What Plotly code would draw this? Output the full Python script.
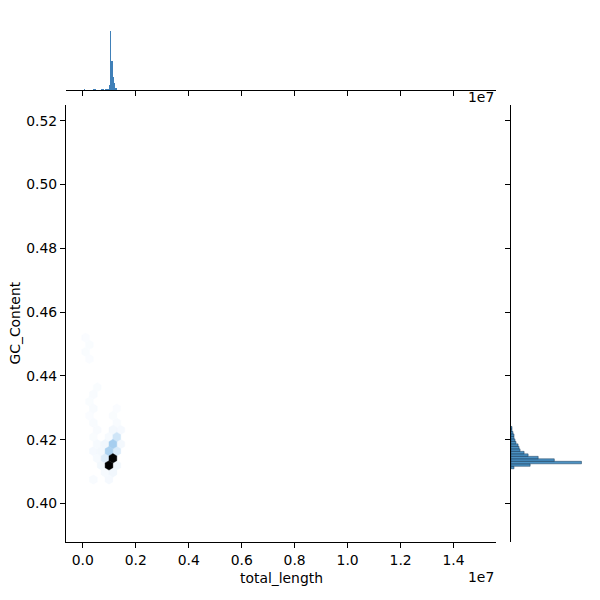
import plotly.graph_objects as go
from plotly.colors import sample_colorscale

# ---------------- data ----------------
x_tick_vals = [0, 2e6, 4e6, 6e6, 8e6, 1e7, 1.2e7, 1.4e7]
x_tick_text = ["0.0", "0.2", "0.4", "0.6", "0.8", "1.0", "1.2", "1.4"]
y_tick_vals = [0.40, 0.42, 0.44, 0.46, 0.48, 0.50, 0.52]
y_tick_text = ["0.40", "0.42", "0.44", "0.46", "0.48", "0.50", "0.52"]

# hexbin cells: centre total_length, centre GC_Content, count
hex_x = [103000, 250600, 103000, 250600,
         545800, 398200, 250600, 398200, 250600, 398200, 545800, 398200, 545800,
         1283800, 1136200, 1283800, 1431400, 1136200, 988600, 841000, 1431400,
         1283800, 1136200, 988600, 1283800, 841000, 988600, 1136200,
         693400, 398200, 693400, 545800, 1283800, 1136200, 988600, 398200, 841000]
hex_y = [0.45200, 0.44977, 0.44755, 0.44533,
         0.43643, 0.43421, 0.43199, 0.42977, 0.42754, 0.42532, 0.42309, 0.42087, 0.41865,
         0.42977, 0.42754, 0.42532, 0.42309, 0.42309, 0.42087, 0.41865, 0.41865,
         0.42087, 0.41865, 0.41643, 0.41643, 0.41420, 0.41198, 0.41420,
         0.41643, 0.41643, 0.41198, 0.41420, 0.41198, 0.40975, 0.40753, 0.40753, 0.40975]
hex_n = [8, 10, 10, 8,
         10, 12, 10, 12, 8, 15, 15, 10, 20,
         8, 10, 12, 25, 30, 20, 40, 30,
         140, 250, 230, 110, 100, 1000, 950,
         30, 25, 35, 20, 40, 40, 25, 15, 20]

# marginal histogram of total_length
len_bin_centers = [76000, 419500, 468500, 713500, 762500, 860500, 909500, 958500,
                   1007500, 1056500, 1105500, 1154500, 1203500, 1252500, 1301500]
len_bin_counts = [4, 4, 4, 4, 4, 4, 4, 4, 20, 236, 116, 52, 28, 9, 2]
len_bin_width = 49000

# marginal histogram of GC_Content
gc_bin_centers = [0.41130, 0.41208, 0.41286, 0.41364, 0.41442, 0.41520, 0.41598, 0.41676,
                  0.41754, 0.41832, 0.41910, 0.41988, 0.42066, 0.42144, 0.42222, 0.42300,
                  0.42378]
gc_bin_counts = [15, 95, 350, 215, 135, 85, 65, 45, 40, 35, 25, 20, 15, 15, 10, 5, 5]
gc_bin_width = 0.00078

# ---------------- styling / geometry ----------------
W = H = 600
FONT = "DejaVu Sans"
FS = 13.9
x_range = [-635000, 15603000]
y_range = [0.38796, 0.52492]
hex_w = 295200      # hexbin cell width (gridsize 50)
hex_h = 0.004447    # hexbin row pitch
hex_scale = [[0.0, "#fcfdff"], [0.02, "#f6fafe"], [0.05, "#eef5fc"],
             [0.12, "#d6e9f8"], [0.25, "#a6ceef"], [0.5, "#56799a"],
             [0.8, "#0a0f14"], [1.0, "#000000"]]

def px(x):
    return x / W

def py(y):
    return 1 - y / H

main_x_dom = [px(66), px(496)]
main_y_dom = [py(542), py(105)]
top_y_dom = [py(90), py(15)]
right_x_dom = [px(511), px(585)]

fig = go.Figure()

# hexbin cells as polygons
offs = [(0.5, -0.5), (0.5, 0.5), (0.0, 1.0), (-0.5, 0.5), (-0.5, -0.5), (0.0, -1.0), (0.5, -0.5)]
nmax = max(hex_n)
order = sorted(range(len(hex_n)), key=lambda k: hex_n[k])
for k in order:
    cx, cy, n = hex_x[k], hex_y[k], hex_n[k]
    col = sample_colorscale(hex_scale, [n / nmax])[0]
    fig.add_trace(go.Scatter(
        x=[cx + dx * hex_w for dx, dy in offs],
        y=[cy + dy * hex_h / 3 for dx, dy in offs],
        mode="lines", fill="toself", fillcolor=col,
        line=dict(color=col, width=0.4),
        hoverinfo="skip", showlegend=False, xaxis="x", yaxis="y"))

# top marginal histogram
fig.add_trace(go.Bar(
    x=len_bin_centers, y=len_bin_counts, width=len_bin_width,
    marker=dict(color="#4080b8", line=dict(width=0)),
    xaxis="x2", yaxis="y2", showlegend=False, hoverinfo="skip"))

# right marginal histogram
fig.add_trace(go.Bar(
    y=gc_bin_centers, x=gc_bin_counts, width=gc_bin_width, orientation="h",
    marker=dict(color="rgba(31,119,180,0.8)", line=dict(width=0.6, color="rgba(20,50,80,0.8)")),
    xaxis="x3", yaxis="y3", showlegend=False, hoverinfo="skip"))

axis_common = dict(showgrid=False, zeroline=False, showline=True, linecolor="black",
                   linewidth=1, ticks="outside", ticklen=5, tickwidth=1,
                   tickcolor="black", tickfont=dict(family=FONT, size=FS, color="black"))

fig.update_layout(
    width=W, height=H, margin=dict(l=0, r=0, t=0, b=0),
    paper_bgcolor="white", plot_bgcolor="white", bargap=0,
    font=dict(family=FONT, size=FS, color="black"),
    xaxis=dict(domain=main_x_dom, range=x_range, anchor="y",
               tickvals=x_tick_vals, ticktext=x_tick_text, **axis_common),
    yaxis=dict(domain=main_y_dom, range=y_range, anchor="x",
               tickvals=y_tick_vals, ticktext=y_tick_text, **axis_common),
    xaxis2=dict(domain=main_x_dom, range=x_range, anchor="y2",
                tickvals=x_tick_vals, showticklabels=False, **axis_common),
    yaxis2=dict(domain=top_y_dom, range=[0, 300], anchor="x2", visible=False),
    xaxis3=dict(domain=right_x_dom, range=[0, 367.5], anchor="y3", visible=False),
    yaxis3=dict(domain=main_y_dom, range=y_range, anchor="x3",
                tickvals=y_tick_vals, showticklabels=False, **axis_common),
)

ann = dict(showarrow=False, xref="paper", yref="paper",
           font=dict(family=FONT, size=FS, color="black"))
fig.add_annotation(text="total_length", x=(main_x_dom[0] + main_x_dom[1]) / 2,
                   y=py(578), xanchor="center", yanchor="middle", **ann)
fig.add_annotation(text="GC_Content", x=px(14), y=(main_y_dom[0] + main_y_dom[1]) / 2,
                   textangle=-90, xanchor="center", yanchor="middle", **ann)
fig.add_annotation(text="1e7", x=px(496), y=py(577), xanchor="right", yanchor="middle", **ann)
fig.add_annotation(text="1e7", x=px(496), y=py(97), xanchor="right", yanchor="middle", **ann)

fig.write_html("out.html",
               config={"displayModeBar": False, "staticPlot": True},
               post_script="document.body.style.margin='0';document.body.style.padding='0';")
